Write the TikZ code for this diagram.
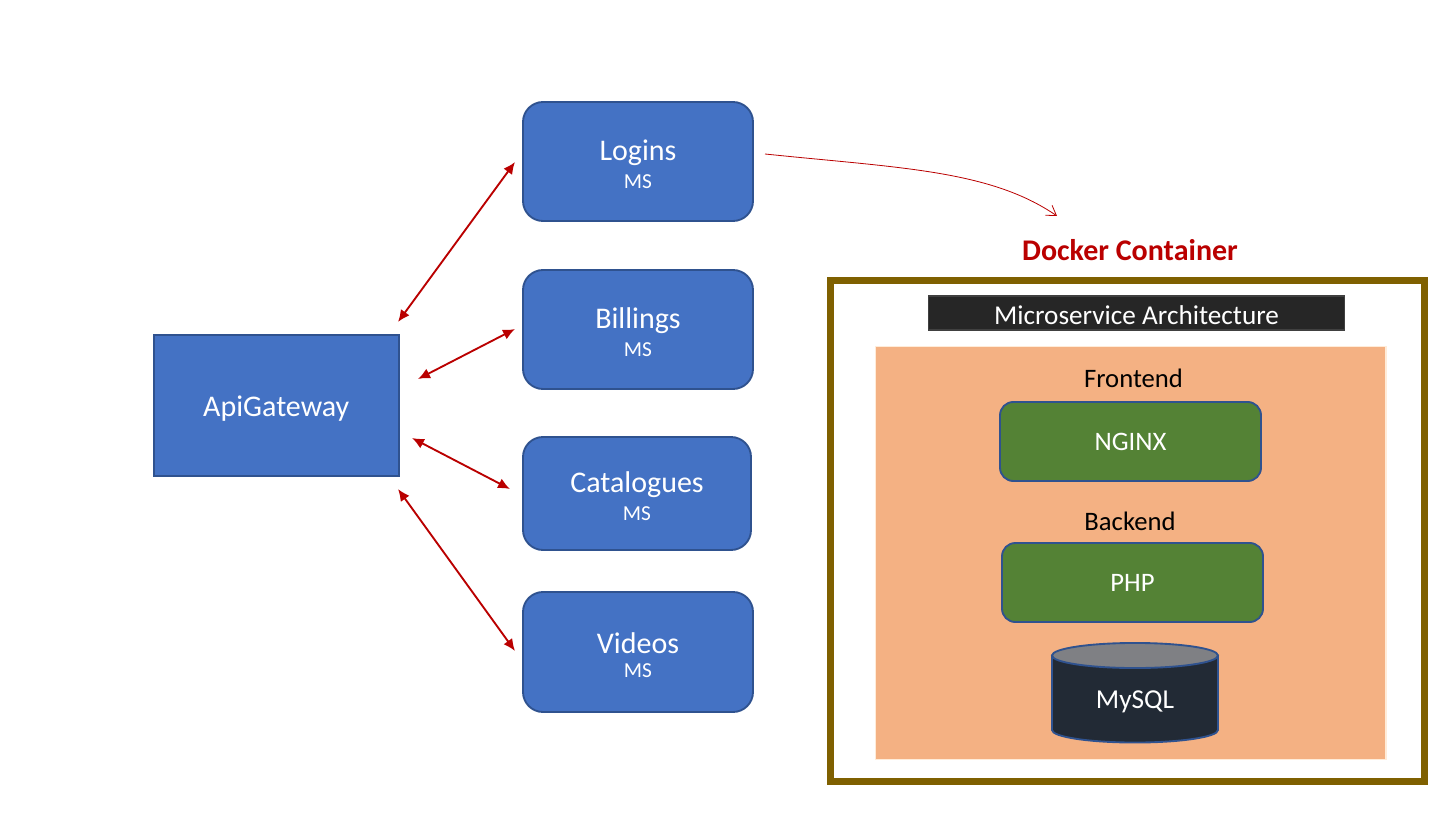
\documentclass[tikz,border=0pt]{standalone}
\usepackage{fontspec}
\setmainfont{Carlito}
\usetikzlibrary{arrows.meta}
\definecolor{msblue}{HTML}{4472C4}
\definecolor{msedge}{HTML}{2F528F}
\definecolor{msred}{HTML}{BA0000}
\definecolor{frameol}{HTML}{7F6000}
\definecolor{panelor}{HTML}{F4B183}
\definecolor{msgreen}{HTML}{548235}
\definecolor{dbdark}{HTML}{222A35}
\definecolor{dbtop}{HTML}{7F8084}
\tikzset{
  x=0.75pt,y=-0.75pt,
  svc/.style={draw=msedge,line width=1.4pt,fill=msblue,rounded corners=15pt,inner sep=0pt,text=white,align=center},
  gate/.style={draw=msedge,line width=1.4pt,fill=msblue,inner sep=0pt,text=white,font=\fontsize{22.5}{26}\selectfont},
  tier/.style={draw=msedge,line width=1.4pt,fill=msgreen,rounded corners=10pt,inner sep=0pt,text=white,font=\fontsize{20}{24}\selectfont},
  link/.style={draw=msred,line width=1.4pt,{Latex[length=9pt,width=8pt]}-{Latex[length=9pt,width=8pt]}},
  captext/.style={inner sep=0pt,font=\fontsize{20}{24}\selectfont},
}
\newcommand{\svctext}[1]{{\fontsize{22.5}{26}\selectfont\rule{0pt}{20pt}#1}\\[6pt]{\fontsize{16}{18}\selectfont MS}}
\begin{document}
\begin{tikzpicture}
\useasboundingbox (0,0) rectangle (1451,816);
\fill[white] (0,0) rectangle (1451,816);
\node[gate,minimum width=183.75pt,minimum height=105.75pt] (api) at (276.25,405.5) {\rule{0pt}{19.5pt}ApiGateway};
\node[svc,minimum width=172.5pt,minimum height=89.25pt] (logins) at (638,161.5) {\svctext{Logins}};
\node[svc,minimum width=172.5pt,minimum height=89.25pt] (billings) at (638,329.5) {\svctext{Billings}};
\node[svc,minimum width=171pt,minimum height=84.75pt] (catalogues) at (637,493.5) {\svctext{Catalogues}};
\node[svc,minimum width=172.5pt,minimum height=90pt] (videos) at (638,652) {\svctext{Videos}};
\coordinate (a1) at (398,322); \coordinate (l1) at (515,162);
\coordinate (a2) at (418,379); \coordinate (b1) at (515,329);
\coordinate (a3) at (412,438); \coordinate (c1) at (510,489);
\coordinate (a4) at (398,489); \coordinate (v1) at (515,651);
\draw[link] (a1) -- (l1);
\draw[link] (a2) -- (b1);
\draw[link] (a3) -- (c1);
\draw[link] (a4) -- (v1);
\node[draw=frameol,line width=5.25pt,inner sep=0pt,minimum width=445pt,minimum height=375.75pt] (frame) at (1127.5,531) {};
\node[text=msred,inner sep=0pt,font=\bfseries\fontsize{22.5}{26}\selectfont] (docker) at (1130,250) {Docker Container};
\coordinate (cs) at (765,154); \coordinate (ce) at (1057,216);
\draw[msred,line width=0.6pt,-{Straight Barb[length=7pt,width=9pt]}] (cs) .. controls (900,168) and (990,170) .. (ce);
\node[draw=black!75,line width=1.4pt,fill=black!85,text=white,inner sep=0pt,minimum width=312pt,minimum height=25.5pt,font=\fontsize{20.4}{24}\selectfont] (title) at (1136.5,313) {\rule{0pt}{17pt}Microservice Architecture};
\node[draw=orange!15,line width=1pt,fill=panelor,inner sep=0pt,minimum width=383pt,minimum height=310pt] (panel) at (1130.5,553) {};
\node[captext] (fe) at (1133.5,378) {Frontend};
\node[tier,minimum width=195.75pt,minimum height=59.25pt] (nginx) at (1130.5,441.5) {NGINX};
\node[captext] (be) at (1130,521) {Backend};
\node[tier,minimum width=195.75pt,minimum height=59.25pt] (php) at (1132.5,582.5) {PHP};
\draw[msedge,line width=1.4pt,fill=dbdark] (1052,655.5) -- (1052,730) arc[start angle=180,end angle=360,x radius=62.25pt,y radius=9.4pt] -- (1218,655.5) -- cycle;
\draw[msedge,line width=1.4pt,fill=dbtop] (1135,655.5) ellipse[x radius=62.25pt,y radius=9.4pt];
\node[text=white,inner sep=0pt,font=\fontsize{20.5}{24}\selectfont] (mysql) at (1135,702) {MySQL};
\end{tikzpicture}
\end{document}
